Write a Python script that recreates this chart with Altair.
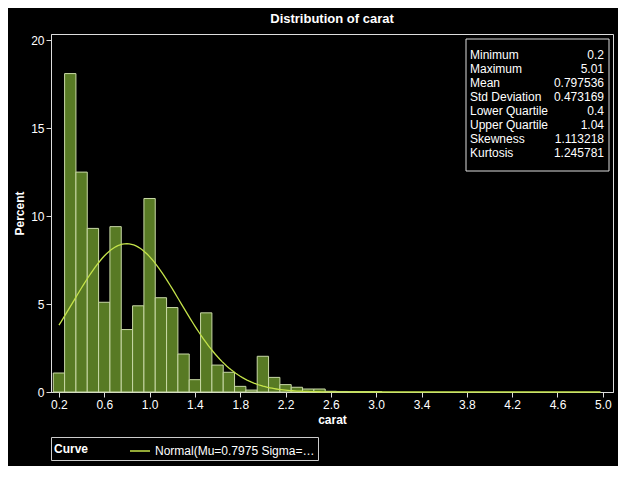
import altair as alt
import pandas as pd

centers = [0.2, 0.3, 0.4, 0.5, 0.6, 0.7, 0.8, 0.9, 1.0, 1.1, 1.2, 1.3, 1.4, 1.5, 1.6,
           1.7, 1.8, 1.9, 2.0, 2.1, 2.2, 2.3, 2.4, 2.5, 2.6, 2.7, 2.8, 2.9, 3.0]
percent = [1.08, 18.1, 12.5, 9.3, 5.1, 9.4, 3.55, 4.9, 11.0, 5.36, 4.8, 2.16, 0.7, 4.5, 1.53,
           1.12, 0.32, 0.11, 2.03, 0.83, 0.42, 0.27, 0.17, 0.17, 0.04, 0.03, 0.02, 0.02, 0.02]
stat_names = ["Minimum", "Maximum", "Mean", "Std Deviation", "Lower Quartile",
              "Upper Quartile", "Skewness", "Kurtosis"]
stat_values = ["0.2", "5.01", "0.797536", "0.473169", "0.4", "1.04", "1.113218", "1.245781"]
mu, sigma = 0.7975, 0.4732
ticks = [round(0.2 + 0.2 * i, 1) for i in range(25)]

bars = pd.DataFrame({"lo": [c - 0.05 for c in centers], "hi": [c + 0.05 for c in centers],
                     "pct": percent})
xs = alt.Scale(domain=[0.13, 5.09], nice=False, zero=False)
ys = alt.Scale(domain=[0, 20.35], nice=False)

hist = alt.Chart(bars).mark_rect(fill="#587a24", stroke="#c9d9a6", strokeWidth=1).encode(
    x=alt.X("lo:Q", scale=xs, title="carat",
            axis=alt.Axis(values=ticks, format=".1f", labelFlush=False)),
    x2="hi:Q",
    y=alt.Y("pct:Q", scale=ys, title="Percent", axis=alt.Axis(values=[0, 5, 10, 15, 20])),
)

curve = alt.Chart(alt.sequence(0.2, 5.0, 0.02, as_="x")).transform_calculate(
    y=f"10 * exp(-0.5 * pow((datum.x - {mu}) / {sigma}, 2)) / ({sigma} * sqrt(2 * PI))",
    series="'Normal(Mu=0.7975 Sigma=0.4732)'",
).mark_line(strokeWidth=1.3).encode(
    x=alt.X("x:Q", scale=xs), y=alt.Y("y:Q", scale=ys, axis=None),
    color=alt.Color("series:N", scale=alt.Scale(range=["#c4e24a"]),
                    legend=alt.Legend(title="Curve", orient="bottom", direction="horizontal",
                                      titleOrient="left", symbolType="stroke",
                                      strokeColor="#cccccc", padding=3, offset=12,
                                      labelColor="white", titleColor="white",
                                      labelFontSize=12, titleFontSize=12, symbolSize=400,
                                      titlePadding=40)),
)

stats = pd.DataFrame({"name": stat_names, "val": stat_values, "i": list(range(8))})
box = alt.Chart(pd.DataFrame({"a": [0]})).mark_rect(fill="black", stroke="#dddddd").encode(
    x=alt.value(415), x2=alt.value(558), y=alt.value(5), y2=alt.value(137))
names = alt.Chart(stats).mark_text(align="left", color="white", fontSize=12).encode(
    x=alt.value(419), y=alt.Y("i:O", axis=None, scale=alt.Scale(range=[14, 126])),
    text="name:N")
vals = alt.Chart(stats).mark_text(align="right", color="white", fontSize=12).encode(
    x=alt.value(553), y=alt.Y("i:O", axis=None, scale=alt.Scale(range=[14, 126])),
    text="val:N")

chart = alt.layer(hist, curve, box, names, vals).resolve_scale(y="independent").properties(
    width=562, height=358, background="black",
    title=alt.Title("Distribution of carat", color="white", fontSize=13, offset=8),
).configure(font="Arial").configure_view(stroke="#dddddd").configure_axis(
    domainColor="#dddddd", tickColor="#dddddd", labelColor="white", titleColor="white",
    grid=False, labelFontSize=12, titleFontSize=12, labelFontWeight="normal",
).configure_axisY(titleFontWeight="bold")

chart.save("out.html", embed_options={"renderer": "svg", "actions": False})
